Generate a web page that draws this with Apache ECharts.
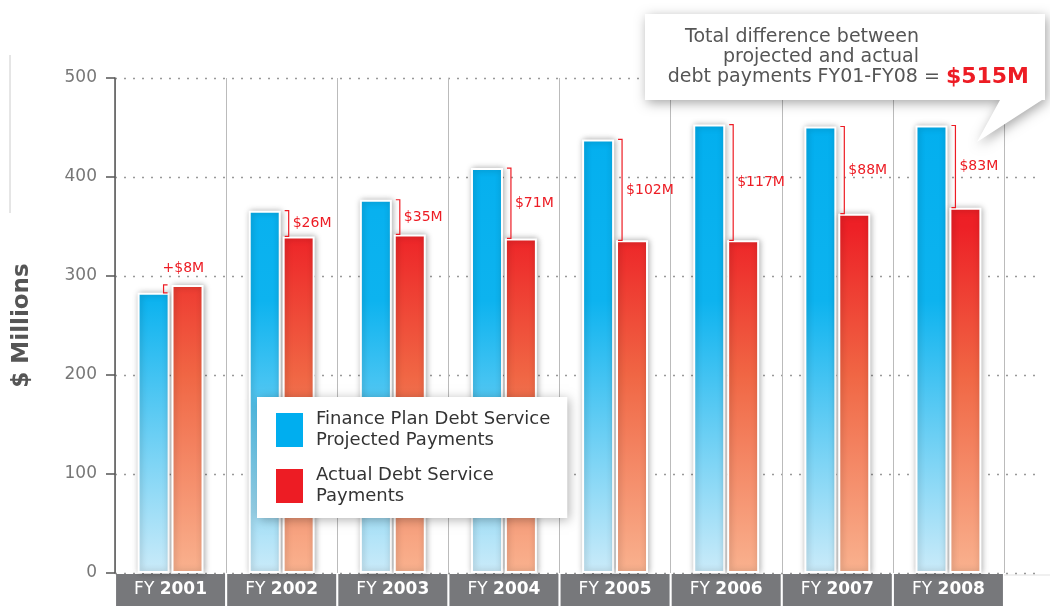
<!DOCTYPE html>
<html>
<head>
<meta charset="utf-8">
<script src="https://cdn.jsdelivr.net/npm/echarts@6/dist/echarts.min.js"></script>
<style>
  html, body { margin: 0; padding: 0; background: #fff; }
  #main { width: 1050px; height: 606px; }
</style>
</head>
<body>
<div id="main"></div>
<script>
  // fiscal years and payments ($ millions)
  var years = ['2001', '2002', '2003', '2004', '2005', '2006', '2007', '2008'];
  var projected = [283, 366, 377, 409, 438, 453, 451, 452];
  var actual = [291, 340, 342, 338, 336, 336, 363, 369];
  var diffLabels = ['+$8M', '$26M', '$35M', '$71M', '$102M', '$117M', '$88M', '$83M'];
  var seriesNames = ['Finance Plan Debt Service\nProjected Payments', 'Actual Debt Service\nPayments'];

  var FONT = '"DejaVu Sans", sans-serif';
  var RED = '#ED1C24';
  var BLUE = '#00AEEF';

  var myChart = echarts.init(document.getElementById('main'));

  var blueGrad = new echarts.graphic.LinearGradient(0, 78, 0, 573, [
    { offset: 0, color: '#00AEEF' },
    { offset: 0.45, color: '#0DB3EF' },
    { offset: 1, color: '#CBEBF9' }
  ], true);
  var redGrad = new echarts.graphic.LinearGradient(0, 78, 0, 573, [
    { offset: 0, color: '#ED1C24' },
    { offset: 0.3, color: '#ED2026' },
    { offset: 0.6, color: '#F06644' },
    { offset: 1, color: '#F9B28F' }
  ], true);

  var barStyle = function (c) {
    return {
      color: c,
      borderColor: '#fff',
      borderWidth: 2,
      shadowBlur: 6,
      shadowColor: 'rgba(0,0,0,0.3)',
      shadowOffsetX: 1
    };
  };

  // bracket + difference text between the two bars
  function renderDiff(params, api) {
    var i = api.value(0);
    var b = api.value(1);
    var r = api.value(2);
    var pb = api.coord([i, b]);
    var pr = api.coord([i, r]);
    var cx = pb[0];
    var x, pts, tx, ty;
    if (b >= r) {
      x = cx + 7;
      pts = [[x - 4, pb[1]], [x, pb[1]], [x, pr[1]], [x - 4, pr[1]]];
      tx = x + 4;
      ty = (pb[1] + pr[1]) / 2;
    } else {
      x = cx - 7;
      pts = [[x + 4, pr[1]], [x, pr[1]], [x, pb[1]], [x + 4, pb[1]]];
      tx = cx - 8;
      ty = pr[1] - 17;
    }
    return {
      type: 'group',
      children: [
        {
          type: 'polyline',
          shape: { points: pts },
          style: { stroke: RED, lineWidth: 1.2, fill: null }
        },
        {
          type: 'text',
          x: tx,
          y: ty,
          style: {
            text: diffLabels[i],
            fill: RED,
            font: '14px ' + FONT,
            align: 'left',
            verticalAlign: 'middle'
          }
        }
      ]
    };
  }

  var option = {
    animation: false,
    grid: [
      { left: 115, top: 78, right: 46, bottom: 33, containLabel: false, outerBoundsMode: 'none' },
      { left: 115, top: 78, right: 10, bottom: 33, containLabel: false, outerBoundsMode: 'none' }
    ],
    xAxis: [
      {
        type: 'category',
        gridIndex: 0,
        data: years,
        axisLine: { show: false },
        axisTick: { show: false },
        splitLine: { show: true, lineStyle: { color: '#bbb', width: 1 } },
        axisLabel: {
          interval: 0,
          margin: 1,
          formatter: function (v) { return 'FY {b|' + v + '}'; },
          backgroundColor: '#77787B',
          width: 109,
          height: 32,
          lineHeight: 32,
          align: 'center',
          color: '#fff',
          fontFamily: FONT,
          fontSize: 17,
          rich: {
            b: { color: '#fff', fontFamily: FONT, fontSize: 17, fontWeight: 'bold', lineHeight: 32 }
          }
        }
      },
      { type: 'value', gridIndex: 1, show: false, min: 0, max: 1 }
    ],
    yAxis: [
      {
        type: 'value',
        gridIndex: 0,
        min: 0,
        max: 500,
        interval: 100,
        name: '$ Millions',
        nameLocation: 'middle',
        nameGap: 81,
        nameRotate: 90,
        nameTextStyle: { color: '#555', fontFamily: FONT, fontSize: 23, fontWeight: 'bold' },
        axisLine: { show: true, lineStyle: { color: '#555', width: 1.5 } },
        axisTick: { show: true, length: 9, lineStyle: { color: '#555', width: 1.5 } },
        axisLabel: { color: '#777', fontFamily: FONT, fontSize: 17, margin: 18 },
        splitLine: { show: false }
      },
      {
        type: 'value',
        gridIndex: 1,
        min: 0,
        max: 500,
        interval: 100,
        axisLine: { show: false },
        axisTick: { show: false },
        axisLabel: { show: false },
        splitLine: { show: true, lineStyle: { type: [2, 7], color: '#999', width: 1.3 } }
      }
    ],
    legend: {
      left: 257,
      top: 397,
      orient: 'vertical',
      icon: 'rect',
      itemWidth: 27,
      itemHeight: 34,
      itemGap: 14,
      padding: [12, 17, 11, 19],
      backgroundColor: '#fff',
      shadowBlur: 10,
      shadowColor: 'rgba(0,0,0,0.3)',
      shadowOffsetX: 2,
      shadowOffsetY: 2,
      selectedMode: false,
      textStyle: { color: '#333', fontFamily: FONT, fontSize: 18, lineHeight: 21, padding: [0, 0, 0, 8] },
      data: [
        { name: seriesNames[0], itemStyle: { color: BLUE, borderWidth: 0, shadowBlur: 0 } },
        { name: seriesNames[1], itemStyle: { color: RED, borderWidth: 0, shadowBlur: 0 } }
      ]
    },
    series: [
      {
        name: seriesNames[0],
        type: 'bar',
        xAxisIndex: 0,
        yAxisIndex: 0,
        barWidth: 32,
        barGap: '6%',
        data: projected,
        itemStyle: barStyle(blueGrad)
      },
      {
        name: seriesNames[1],
        type: 'bar',
        xAxisIndex: 0,
        yAxisIndex: 0,
        barWidth: 32,
        data: actual,
        itemStyle: barStyle(redGrad)
      },
      {
        type: 'custom',
        xAxisIndex: 0,
        yAxisIndex: 0,
        z: 5,
        clip: false,
        renderItem: renderDiff,
        data: years.map(function (y, i) { return [i, projected[i], actual[i]]; })
      }
    ],
    graphic: [
      {
        type: 'line',
        shape: { x1: 10, y1: 55, x2: 10, y2: 213 },
        style: { stroke: '#ccc', lineWidth: 1 }
      },
      {
        type: 'rect',
        shape: { x: 1004, y: 574, width: 46, height: 2 },
        style: { fill: 'rgba(0,0,0,0.06)', shadowBlur: 6, shadowColor: 'rgba(0,0,0,0.2)' }
      },
      {
        type: 'polygon',
        z: 100,
        shape: {
          points: [[645, 14], [1045, 14], [1045, 100], [1042, 100], [977, 142], [1000, 100], [645, 100]]
        },
        style: {
          fill: '#fff',
          shadowBlur: 12,
          shadowColor: 'rgba(0,0,0,0.35)',
          shadowOffsetX: 2,
          shadowOffsetY: 3
        }
      },
      {
        type: 'text',
        z: 101,
        x: 919,
        y: 37,
        style: { text: 'Total difference between', fill: '#555', font: '19px ' + FONT, align: 'right', verticalAlign: 'middle' }
      },
      {
        type: 'text',
        z: 101,
        x: 919,
        y: 57,
        style: { text: 'projected and actual', fill: '#555', font: '19px ' + FONT, align: 'right', verticalAlign: 'middle' }
      },
      {
        type: 'text',
        z: 101,
        x: 1029,
        y: 77,
        style: {
          text: '{a|debt payments FY01-FY08 = }{b|$515M}',
          align: 'right',
          verticalAlign: 'middle',
          rich: {
            a: { fill: '#555', fontFamily: FONT, fontSize: 19 },
            b: { fill: RED, fontFamily: FONT, fontSize: 22, fontWeight: 'bold' }
          }
        }
      }
    ]
  };
  myChart.setOption(option);
</script>
</body>
</html>
